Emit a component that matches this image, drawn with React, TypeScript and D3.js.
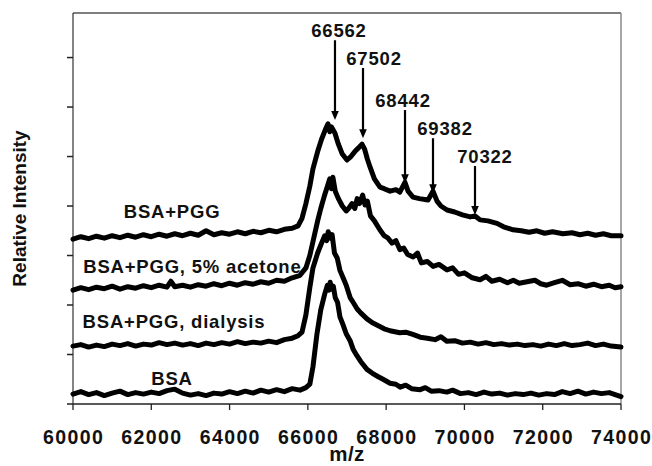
import React from "react";
import * as d3 from "d3";

type P = [number, number];

const xTicks = [60000, 62000, 64000, 66000, 68000, 70000, 72000, 74000];
const yTicks = [0, 1, 2, 3, 4, 5, 6, 7];

const bsa: P[] = [
  [60000, .20], [60200, .25], [60400, .19], [60600, .23], [60800, .17], [61000, .22], [61200, .26], [61400, .19],
  [61600, .23], [61800, .20], [62000, .24], [62200, .21], [62400, .27], [62600, .30], [62800, .22], [63000, .18],
  [63200, .21], [63400, .17], [63600, .22], [63800, .20], [64000, .25], [64200, .21], [64400, .26], [64600, .22],
  [64800, .28], [65000, .24], [65200, .29], [65400, .25], [65600, .31], [65800, .28], [65950, .33], [66050, .40],
  [66130, .75], [66230, 1.40], [66330, 1.90], [66430, 2.22], [66500, 2.40], [66540, 2.30], [66570, 2.46],
  [66610, 2.32], [66650, 2.38], [66700, 2.15], [66760, 2.05], [66820, 1.76], [66900, 1.60], [66980, 1.42],
  [67080, 1.28], [67160, 1.10], [67250, .98], [67350, .86], [67510, .70], [67650, .62], [67800, .55],
  [67920, .50], [68100, .42], [68250, .40], [68360, .34], [68500, .38], [68650, .31], [68870, .29], [69000, .33],
  [69150, .26], [69350, .27], [69550, .24], [69700, .28], [69900, .21], [70100, .23], [70300, .19], [70500, .24],
  [70700, .20], [70900, .22], [71100, .18], [71300, .21], [71500, .19], [71700, .22], [71900, .18], [72100, .21],
  [72300, .19], [72500, .25], [72700, .21], [72900, .26], [73100, .20], [73300, .24], [73500, .21], [73700, .23],
  [73850, .19], [74000, .15],
];

const dialysis: P[] = [
  [60000, 1.17], [60200, 1.20], [60400, 1.15], [60600, 1.19], [60800, 1.16], [61000, 1.21], [61200, 1.18],
  [61400, 1.22], [61600, 1.17], [61800, 1.21], [62000, 1.19], [62200, 1.24], [62400, 1.20], [62600, 1.23],
  [62800, 1.19], [63000, 1.22], [63200, 1.18], [63400, 1.23], [63600, 1.20], [63800, 1.24], [64000, 1.21],
  [64200, 1.26], [64400, 1.22], [64600, 1.25], [64800, 1.23], [65000, 1.27], [65200, 1.24], [65400, 1.30],
  [65600, 1.33], [65750, 1.38], [65850, 1.45], [65950, 1.80], [66050, 2.35], [66130, 2.75], [66250, 3.05],
  [66350, 3.25], [66430, 3.40], [66480, 3.30], [66520, 3.48], [66570, 3.35], [66620, 3.42], [66680, 3.05],
  [66750, 2.95], [66820, 2.70], [66900, 2.55], [66980, 2.40], [67080, 2.15], [67160, 2.05], [67260, 1.92],
  [67350, 1.84], [67510, 1.72], [67650, 1.64], [67800, 1.58], [67950, 1.52], [68100, 1.48], [68350, 1.44],
  [68500, 1.45], [68700, 1.40], [68870, 1.35], [69050, 1.33], [69250, 1.30], [69400, 1.36], [69550, 1.27],
  [69750, 1.28], [69950, 1.23], [70150, 1.25], [70350, 1.21], [70550, 1.24], [70750, 1.20], [70950, 1.22],
  [71150, 1.19], [71350, 1.21], [71550, 1.18], [71750, 1.20], [71950, 1.17], [72150, 1.21], [72350, 1.18],
  [72550, 1.22], [72750, 1.18], [72950, 1.20], [73150, 1.23], [73350, 1.18], [73550, 1.21], [73750, 1.17],
  [74000, 1.15],
];

const acetone: P[] = [
  [60000, 2.30], [60200, 2.35], [60400, 2.31], [60600, 2.36], [60800, 2.33], [61000, 2.38], [61200, 2.32],
  [61400, 2.37], [61600, 2.34], [61800, 2.39], [62000, 2.35], [62200, 2.40], [62400, 2.36], [62500, 2.48],
  [62600, 2.37], [62800, 2.40], [63000, 2.36], [63200, 2.41], [63400, 2.38], [63600, 2.43], [63800, 2.39],
  [64000, 2.44], [64200, 2.40], [64400, 2.45], [64600, 2.42], [64800, 2.47], [65000, 2.44], [65200, 2.50],
  [65400, 2.48], [65600, 2.55], [65800, 2.60], [65950, 2.75], [66050, 3.00], [66150, 3.35], [66250, 3.70],
  [66330, 3.95], [66420, 4.20], [66500, 4.40], [66560, 4.55], [66600, 4.35], [66640, 4.58], [66700, 4.30],
  [66780, 4.15], [66880, 4.00], [66980, 3.90], [67050, 3.96], [67130, 4.05], [67200, 3.95], [67260, 4.15],
  [67320, 4.05], [67400, 4.22], [67460, 4.02], [67520, 4.10], [67600, 3.80], [67700, 3.70], [67840, 3.52],
  [67950, 3.40], [68050, 3.35], [68150, 3.25], [68250, 3.30], [68350, 3.12], [68450, 3.15], [68550, 3.02],
  [68690, 2.97], [68800, 3.05], [68900, 2.85], [69050, 2.88], [69200, 2.78], [69350, 2.82], [69555, 2.71],
  [69700, 2.75], [69850, 2.62], [70000, 2.65], [70200, 2.55], [70400, 2.51], [70550, 2.58], [70700, 2.48],
  [70900, 2.52], [71100, 2.45], [71250, 2.50], [71400, 2.44], [71600, 2.47], [71800, 2.50], [71950, 2.43],
  [72100, 2.40], [72300, 2.45], [72500, 2.50], [72700, 2.41], [72900, 2.43], [73100, 2.38], [73300, 2.42],
  [73500, 2.37], [73700, 2.40], [73850, 2.35], [74000, 2.37],
];

const bsaPgg: P[] = [
  [60000, 3.33], [60200, 3.38], [60400, 3.34], [60600, 3.39], [60800, 3.35], [61000, 3.40], [61200, 3.36],
  [61400, 3.41], [61600, 3.37], [61800, 3.42], [62000, 3.38], [62200, 3.43], [62400, 3.39], [62600, 3.44],
  [62800, 3.40], [63000, 3.45], [63200, 3.41], [63400, 3.50], [63600, 3.42], [63800, 3.46], [64000, 3.43],
  [64200, 3.48], [64400, 3.44], [64600, 3.49], [64800, 3.46], [65000, 3.51], [65200, 3.48], [65400, 3.53],
  [65600, 3.55], [65750, 3.60], [65850, 3.75], [65950, 4.05], [66050, 4.40], [66130, 4.75], [66250, 5.10],
  [66350, 5.35], [66450, 5.55], [66514, 5.66], [66560, 5.50], [66600, 5.60], [66693, 5.47], [66780, 5.25],
  [66880, 5.05], [67000, 4.93], [67100, 5.00], [67200, 5.10], [67300, 5.18], [67383, 5.25], [67450, 5.15],
  [67520, 4.95], [67588, 4.79], [67700, 4.55], [67843, 4.38], [67950, 4.35], [68100, 4.30], [68250, 4.33],
  [68350, 4.28], [68480, 4.48], [68560, 4.30], [68686, 4.18], [68850, 4.15], [69070, 4.12], [69197, 4.30],
  [69300, 4.10], [69400, 4.00], [69555, 3.92], [69750, 3.88], [69950, 3.82], [70150, 3.78], [70270, 3.80],
  [70400, 3.72], [70600, 3.70], [70832, 3.65], [71000, 3.58], [71241, 3.52], [71450, 3.50], [71650, 3.47],
  [71850, 3.50], [72050, 3.45], [72250, 3.48], [72518, 3.44], [72750, 3.46], [72950, 3.42], [73150, 3.45],
  [73350, 3.41], [73550, 3.44], [73750, 3.40], [74000, 3.40],
];

const seriesList = [bsa, dialysis, acetone, bsaPgg];

const traceNames = ["BSA", "BSA+PGG, dialysis", "BSA+PGG, 5% acetone", "BSA+PGG"];
const traceNameMz = [62530, 62580, 63050, 62530];
const traceNameV = [0.38, 1.54, 2.65, 3.75];

const peakLabels = ["66562", "67502", "68442", "69382", "70322"];
const peakLabelMz = [66795, 67690, 68431, 69504, 70525];
const peakLabelV = [7.41, 6.85, 6.0, 5.43, 4.87];
const arrowMz = [66693, 67409, 68482, 69197, 70270];
const arrowTipV = [5.74, 5.37, 4.46, 4.26, 3.82];

const W = 652, H = 466;
const M = { left: 73, right: 621, top: 13, bottom: 404 };
const FONT = "'Liberation Sans', Arial, Helvetica, sans-serif";

export default function App() {
  const x = d3.scaleLinear().domain([60000, 74000]).range([M.left, M.right]);
  const y = d3.scaleLinear().domain([0, 7.9]).range([M.bottom, M.top]);
  const line = d3.line<P>().x((d) => x(d[0])).y((d) => y(d[1]));

  return (
    <svg width={W} height={H} style={{ position: "absolute", left: 0, top: 0, background: "#fff" }}
      fontFamily={FONT}>
      <rect x={0} y={0} width={W} height={H} fill="#fff" />
      {/* frame */}
      <line x1={M.left} x2={M.right} y1={M.top} y2={M.top} stroke="#555" strokeWidth={1.5} />
      <line x1={M.right} x2={M.right} y1={M.top} y2={M.bottom} stroke="#8a8a8a" strokeWidth={1.5} />
      <line x1={M.left} x2={M.left} y1={M.top} y2={M.bottom} stroke="#333" strokeWidth={1.2} />
      <line x1={M.left - 6} x2={M.right} y1={M.bottom} y2={M.bottom} stroke="#222" strokeWidth={1.5} />
      {yTicks.slice(1).map((t) => (
        <line key={t} x1={M.left - 6} x2={M.left} y1={y(t)} y2={y(t)} stroke="#222" strokeWidth={1.5} />
      ))}
      {xTicks.map((t) => (
        <g key={t}>
          <line x1={x(t)} x2={x(t)} y1={M.bottom} y2={M.bottom + 6} stroke="#222" strokeWidth={1.3} />
          <text x={x(t) + 0.7} y={444} textAnchor="middle" fontSize={19.5} fontWeight="bold" letterSpacing={1.4}
            fill="#111">{t}</text>
        </g>
      ))}
      <text x={(M.left + M.right) / 2} y={461} textAnchor="middle" fontSize={20.5} fontWeight="bold"
        letterSpacing={0.5} fill="#111">m/z</text>
      <text transform={`translate(26,${(M.top + M.bottom) / 2}) rotate(-90)`} textAnchor="middle" fontSize={19}
        fontWeight="bold" fill="#111">Relative Intensity</text>

      {/* traces */}
      {seriesList.map((s, i) => (
        <path key={i} d={line(s) || ""} fill="none" stroke="#000" strokeWidth={5}
          strokeLinejoin="round" strokeLinecap="round" />
      ))}
      {traceNames.map((n, i) => (
        <text key={n} x={x(traceNameMz[i])} y={y(traceNameV[i])} textAnchor="middle" fontSize={18.5}
          fontWeight="bold" letterSpacing={0.8} fill="#111">{n}</text>
      ))}

      {/* peak annotations */}
      {peakLabels.map((lab, i) => {
        const ax = x(arrowMz[i]);
        const top = y(peakLabelV[i]) + 3;
        const tip = y(arrowTipV[i]);
        return (
          <g key={lab}>
            <text x={x(peakLabelMz[i])} y={y(peakLabelV[i])} textAnchor="middle" fontSize={18.5}
              fontWeight="bold" letterSpacing={0.8} fill="#111">{lab}</text>
            <line x1={ax} x2={ax} y1={top} y2={tip - 8} stroke="#000" strokeWidth={2.2} />
            <path d={`M${ax - 3.8},${tip - 9} L${ax + 3.8},${tip - 9} L${ax},${tip} Z`} fill="#000" />
          </g>
        );
      })}
    </svg>
  );
}
